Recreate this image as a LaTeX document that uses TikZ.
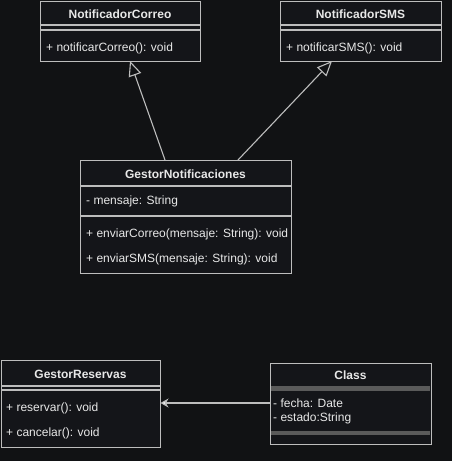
\documentclass[tikz,border=0pt]{standalone}
\usepackage{fontspec}
\setmainfont{Liberation Sans}
\usetikzlibrary{arrows.meta}
\definecolor{bg}{HTML}{111214}
\definecolor{boxfill}{HTML}{141519}
\definecolor{edge}{HTML}{BDBDBD}
\definecolor{txt}{HTML}{E8E8E8}
\definecolor{band}{HTML}{5A5A5A}
\begin{document}
\begin{tikzpicture}[x=1pt,y=-1pt,
  classbox/.style={draw=edge,fill=boxfill,line width=1.2pt,rectangle,inner sep=0pt,anchor=north west},
  sepline/.style={draw=edge,line width=1.1pt},
  title/.style={text=txt,font=\fontsize{12}{14}\selectfont\bfseries,inner sep=0pt},
  member/.style={text=txt,font=\fontsize{12}{14}\selectfont,inner sep=0pt,anchor=west},
  inherit/.style={draw=edge,line width=1.1pt,-{Triangle[open,length=15pt,width=13pt,fill=bg]}},
  assoc/.style={draw=edge,line width=1.1pt,-{Stealth[length=8pt,width=9pt,fill=white]}}
]
\fill[bg] (0,0) rectangle (452,461);
\useasboundingbox (0,0) rectangle (452,461);

% NotificadorCorreo
\node[classbox,minimum width=160pt,minimum height=60pt] (nc) at (40,1) {};
\draw[sepline] (40,25) -- (200,25) (40,30) -- (200,30);
\node[title] (nct) at (120,14) {NotificadorCorreo};
\node[member] (ncm) at (46,48) {+ notificarCorreo(): void};

% NotificadorSMS
\node[classbox,minimum width=161pt,minimum height=60pt] (ns) at (280,1) {};
\draw[sepline] (280,25) -- (441,25) (280,30) -- (441,30);
\node[title] (nst) at (360.5,14) {NotificadorSMS};
\node[member] (nsm) at (286,48) {+ notificarSMS(): void};

% GestorNotificaciones
\node[classbox,minimum width=211pt,minimum height=113pt] (gn) at (80,160) {};
\draw[sepline] (80,186) -- (291,186) (80,216) -- (291,216);
\node[title] (gnt) at (185.5,174) {GestorNotificaciones};
\node[member] (gna) at (86,201) {- mensaje: String};
\node[member] (gnm1) at (86,234) {+ enviarCorreo(mensaje: String): void};
\node[member] (gnm2) at (86,259) {+ enviarSMS(mensaje: String): void};

% GestorReservas
\node[classbox,minimum width=159pt,minimum height=87pt] (gr) at (1,360) {};
\draw[sepline] (1,386) -- (160,386) (1,390) -- (160,390);
\node[title] (grt) at (80.5,374) {GestorReservas};
\node[member] (grm1) at (6,408) {+ reservar(): void};
\node[member] (grm2) at (6,433) {+ cancelar(): void};

% Class
\node[classbox,minimum width=161pt,minimum height=81pt] (cl) at (270,363) {};
\fill[band] (270.6,386) rectangle (430.4,390.5);
\fill[band] (270.6,430.5) rectangle (430.4,435);
\node[title] (clt) at (350.5,375) {Class};
\node[member] (cla1) at (273,403) {- fecha: Date};
\node[member] (cla2) at (273,418) {- estado:String};

% connectors
\coordinate (gn1) at (165,160);
\coordinate (gn2) at (238,160);
\coordinate (nc1) at (130,61);
\coordinate (ns1) at (332,61);
\coordinate (cl1) at (270,403);
\coordinate (gr1) at (160.5,403);
\draw[inherit] (gn1) -- (nc1);
\draw[inherit] (gn2) -- (ns1);
\draw[assoc] (cl1) -- (gr1);
\end{tikzpicture}
\end{document}
